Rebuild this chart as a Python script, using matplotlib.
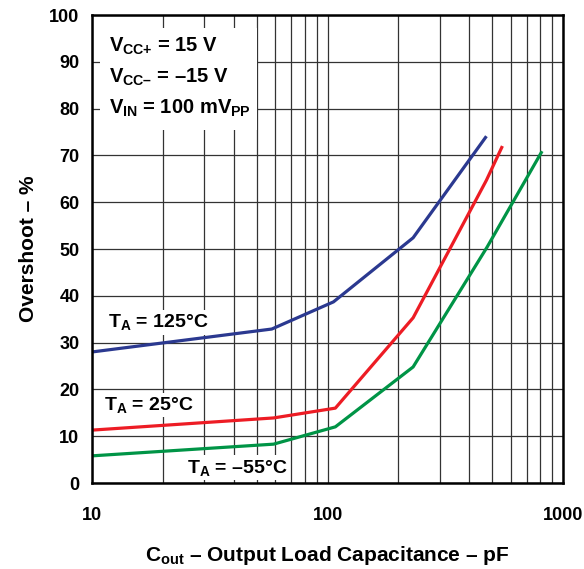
import matplotlib
matplotlib.use("Agg")
import matplotlib.pyplot as plt
from matplotlib.ticker import FixedLocator, NullFormatter
from matplotlib.patches import Rectangle

plt.rcParams['font.family'] = ['Liberation Sans', 'DejaVu Sans']
plt.rcParams['font.weight'] = 'bold'
plt.rcParams['mathtext.fontset'] = 'custom'
plt.rcParams['mathtext.rm'] = 'Liberation Sans:bold'
plt.rcParams['mathtext.it'] = 'Liberation Sans:bold'
plt.rcParams['mathtext.bf'] = 'Liberation Sans:bold'

# Data
cap_125 = [10, 58, 106, 231, 473]
ovs_125 = [28.0, 32.9, 38.7, 52.4, 74.1]
cap_25 = [10, 59, 108, 231, 473, 553]
ovs_25 = [11.3, 13.9, 16.0, 35.3, 64.7, 72.0]
cap_m55 = [10, 59, 108, 231, 476, 815]
ovs_m55 = [5.8, 8.3, 12.0, 24.8, 50.4, 70.9]
xticks = [10, 100, 1000]
xticklabels = ['10', '100', '1000']
yticks = list(range(0, 101, 10))

fig = plt.figure(figsize=(5.84, 5.69), dpi=100)
ax = fig.add_axes([92/584, 1 - 483/569, (563-92)/584, (483-15)/569])
ax.set_xscale('log')
ax.set_xlim(10, 1000)
ax.set_ylim(0, 100)

ax.plot(cap_125, ovs_125, color='#2B3990', lw=2.3, zorder=3, solid_capstyle='butt')
ax.plot(cap_25, ovs_25, color='#ED1C24', lw=2.3, zorder=3, solid_capstyle='butt')
ax.plot(cap_m55, ovs_m55, color='#009446', lw=2.3, zorder=3, solid_capstyle='butt')

ax.xaxis.set_major_locator(FixedLocator(xticks))
ax.set_xticklabels(xticklabels)
minors = [m * d for d in (10, 100) for m in range(2, 10)]
ax.xaxis.set_minor_locator(FixedLocator(minors))
ax.xaxis.set_minor_formatter(NullFormatter())
ax.set_yticks(yticks)
ax.tick_params(axis='both', which='both', length=0, labelsize=13)
ax.tick_params(axis='x', pad=17)
ax.tick_params(axis='y', pad=9)
for lab in ax.get_xticklabels() + ax.get_yticklabels():
    lab.set_fontweight('bold')

ax.grid(True, which='both', color='#333333', lw=0.9, zorder=1)
for s in ax.spines.values():
    s.set_linewidth(1.8)
    s.set_zorder(5)

ax.set_xlabel(r'C$_{\text{out}}$ – Output Load Capacitance – pF', fontsize=15, fontweight='bold', labelpad=15)
ax.set_ylabel('Overshoot – %', fontsize=15, fontweight='bold', labelpad=8)

# White box with conditions
box = Rectangle(((100-92)/(563-92), (483-130)/(483-15)), (257-100)/(563-92), (130-28)/(483-15),
                transform=ax.transAxes, facecolor='white', edgecolor='none', zorder=2)
ax.add_patch(box)
tx = (109-92)/(563-92)
for ypix, s in [(46, r'$V_{\text{CC+}}$ = 15 V'), (77, r'$V_{\text{CC–}}$ = –15 V'),
                (108, r'$V_{\text{IN}}$ = 100 m$V_{\text{PP}}$')]:
    ax.text(tx, (483-ypix)/(483-15), s, transform=ax.transAxes, fontsize=14.5, fontweight='bold',
            va='center', ha='left', zorder=4)

bb = dict(facecolor='white', edgecolor='none', pad=1.5)
ax.text(11.7, 34.3, r'T$_{\text{A}}$ = 125°C', fontsize=14, fontweight='bold', va='center', ha='left', zorder=4, bbox=bb)
ax.text(11.3, 16.7, r'T$_{\text{A}}$ = 25°C', fontsize=14, fontweight='bold', va='center', ha='left', zorder=4, bbox=bb)
ax.text(25.3, 3.3, r'T$_{\text{A}}$ = –55°C', fontsize=14, fontweight='bold', va='center', ha='left', zorder=4, bbox=bb)

fig.savefig('out.png', dpi=100)
